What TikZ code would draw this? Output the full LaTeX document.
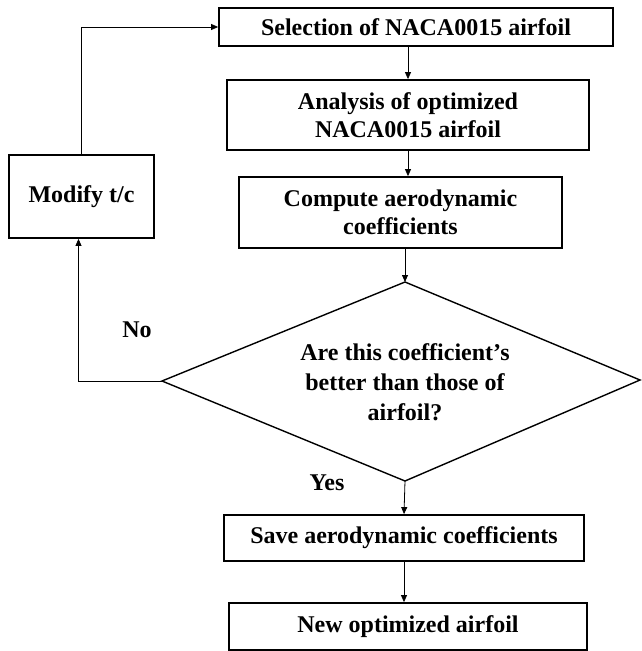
\documentclass[tikz,border=0pt]{standalone}
\usepackage{fontspec}
\setmainfont{Liberation Serif}
\usetikzlibrary{arrows.meta}
\begin{document}
\begin{tikzpicture}[x=1pt,y=-1pt,
  boxstyle/.style={draw, line width=1.8pt, rectangle, inner sep=0pt, align=center,
    font=\fontsize{24}{28}\selectfont\bfseries},
  lbl/.style={inner sep=0pt, font=\fontsize{24}{28}\selectfont\bfseries},
  arr/.style={line width=0.8pt, -{Triangle[length=7pt,width=6pt]}},
  ln/.style={line width=0.8pt}]
\useasboundingbox (0,0) rectangle (641,651);
\fill[white] (0,0) rectangle (641,651);

\node[boxstyle, minimum width=394pt, minimum height=38pt] (sel) at (416,27) {Selection of NACA0015 airfoil};
\node[boxstyle, minimum width=362pt, minimum height=70pt] (ana) at (408,115) {Analysis of optimized\\NACA0015 airfoil};
\node[boxstyle, minimum width=323pt, minimum height=71pt] (comp) at (400.5,212.5) {Compute aerodynamic\\coefficients};
\node[boxstyle, minimum width=145pt, minimum height=83pt] (mod) at (81.5,196.5) {Modify t/c};
\node[boxstyle, minimum width=360pt, minimum height=46pt] (save) at (404,538) {Save aerodynamic coefficients};
\node[boxstyle, minimum width=358pt, minimum height=47pt] (new) at (408,626.5) {New optimized airfoil};

\coordinate (dt) at (405,282);
\coordinate (dl) at (162,381);
\coordinate (db) at (405,481);
\coordinate (dr) at (640,380);
\draw[line width=1.4pt, line join=miter] (dt) -- (dr) -- (db) -- (dl) -- cycle;
\node[lbl, align=center, font=\fontsize{24}{30}\selectfont\bfseries] (dtext) at (405,382.5) {Are this coefficient’s\\better than those of\\airfoil?};

\node[lbl] (no) at (137,330) {No};
\node[lbl] (yes) at (327,483) {Yes};

\coordinate (mb) at ([xshift=-3pt]mod.south);
\draw[arr] (sel.south -| ana.north) -- (ana.north);
\draw[arr] (ana.south) -- (ana.south |- comp.north);
\draw[arr] (comp.south -| dt) -- (dt);
\draw[arr] (db) -- (save.north);
\draw[arr] (save.south) -- (save.south |- new.north);
\draw[arr] (dl) -- (dl -| mb) -- (mb);
\draw[arr] (mod.north) -- (mod.north |- sel.west) -- (sel.west);
\end{tikzpicture}
\end{document}
